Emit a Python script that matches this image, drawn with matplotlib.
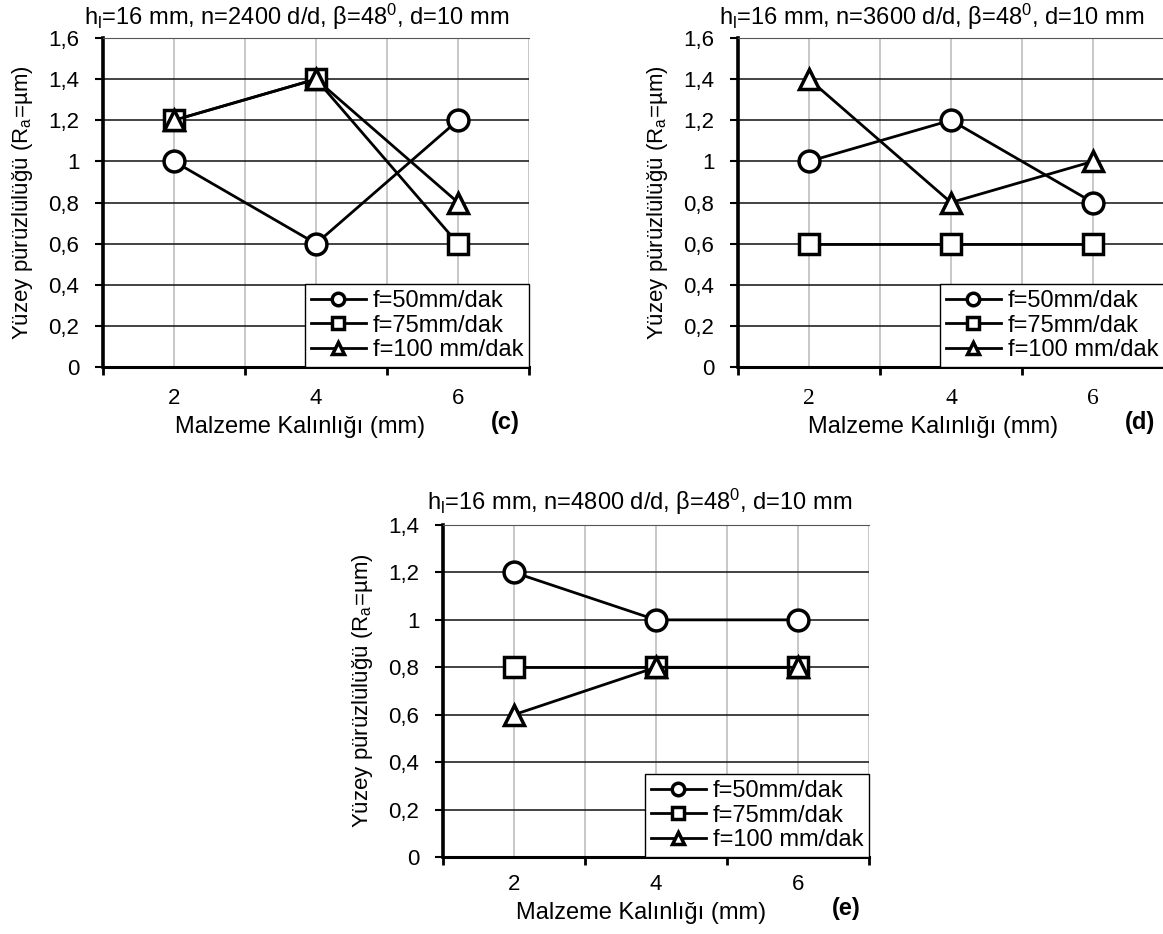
import numpy as np
import matplotlib
matplotlib.use('Agg')
import matplotlib.pyplot as plt
from matplotlib.ticker import FuncFormatter

plt.rcParams['font.family'] = ['Liberation Sans', 'DejaVu Sans']
plt.rcParams['mathtext.fontset'] = 'custom'
plt.rcParams['mathtext.rm'] = 'Liberation Sans'
plt.rcParams['mathtext.it'] = 'Liberation Sans:italic'

# data (Ra in micrometres)
thickness = ['2', '4', '6']
labels = ['f=50mm/dak', 'f=75mm/dak', 'f=100 mm/dak']

ra_2400_f50 = [1.0, 0.6, 1.2]
ra_2400_f75 = [1.2, 1.4, 0.6]
ra_2400_f100 = [1.2, 1.4, 0.8]

ra_3600_f50 = [1.0, 1.2, 0.8]
ra_3600_f75 = [0.6, 0.6, 0.6]
ra_3600_f100 = [1.4, 0.8, 1.0]

ra_4800_f50 = [1.2, 1.0, 1.0]
ra_4800_f75 = [0.8, 0.8, 0.8]
ra_4800_f100 = [0.6, 0.8, 0.8]

markers = ['o', 's', '^']
FS = 17       # titles, legend, axis labels
TFS = 16      # tick labels
W, H = 1163, 934

fig = plt.figure(figsize=(W / 100, H / 100), dpi=100)


def px_axes(l, t, r, b):
    return fig.add_axes([l / W, 1 - b / H, (r - l) / W, (b - t) / H])


def px_text(x, y, s, **kw):
    fig.text(x / W, 1 - y / H, s, ha='center', va='center', **kw)


def comma_fmt(v, pos):
    return ('%g' % round(v, 1)).replace('.', ',')


def draw(ax, series, ymax, xpad, serif_x=False):
    x = np.arange(len(thickness))
    for vals, m, lab in zip(series, markers, labels):
        ax.plot(x, vals, color='black', lw=2, marker=m, ms=15, mfc='white',
                mec='black', mew=2.5, label=lab, clip_on=False, zorder=3)
    ax.set_xlim(-0.5, 2.5)
    ax.set_ylim(0, ymax)
    ax.set_yticks(np.arange(0, ymax + 0.01, 0.2))
    ax.yaxis.set_major_formatter(FuncFormatter(comma_fmt))
    ax.set_xticks(x)
    ax.set_xticklabels(thickness)
    ax.set_xticks([-0.5, 0.5, 1.5, 2.5], minor=True)
    ax.tick_params(axis='x', which='major', length=0, pad=xpad, labelsize=TFS)
    ax.tick_params(axis='x', which='minor', length=6, width=2, direction='out')
    ax.tick_params(axis='y', length=6, width=1.5, direction='out', pad=11, labelsize=TFS)
    if serif_x:
        for t in ax.get_xticklabels():
            t.set_fontfamily('Liberation Serif')
            t.set_fontsize(TFS + 1)
    ax.set_axisbelow(True)
    ax.grid(axis='y', color='#222222', lw=1.2)
    ax.grid(axis='x', which='both', color='#c4c4c4', lw=1.3)
    ax.spines['left'].set_linewidth(2.6)
    ax.spines['bottom'].set_linewidth(2.2)
    ax.spines['top'].set_linewidth(0.8)
    ax.spines['top'].set_color('#555555')
    ax.spines['right'].set_visible(False)
    ax.set_ylabel('Yüzey pürüzlülüğü (R$_\\mathregular{a}$=µm)', fontsize=TFS, va='center')
    ax.yaxis.set_label_coords(-0.19, 0.5)
    leg = ax.legend(loc='lower right', borderaxespad=0, fancybox=False,
                    edgecolor='black', framealpha=1, fontsize=FS,
                    handlelength=2.3, handletextpad=0.3, labelspacing=0.1,
                    borderpad=0.25, markerscale=0.6)
    leg.get_frame().set_linewidth(1.0)


title_fmt = 'h$_\\mathregular{l}$=16 mm, n=%s d/d, β=48$^\\mathregular{0}$, d=10 mm'

ax_c = px_axes(103, 38, 529, 367)
draw(ax_c, [ra_2400_f50, ra_2400_f75, ra_2400_f100], 1.6, 15)
ax_d = px_axes(738, 38, 1164, 367)
draw(ax_d, [ra_3600_f50, ra_3600_f75, ra_3600_f100], 1.6, 15, serif_x=True)
ax_e = px_axes(443, 525, 869, 857)
draw(ax_e, [ra_4800_f50, ra_4800_f75, ra_4800_f100], 1.4, 12)

px_text(297, 17, title_fmt % '2400', fontsize=FS)
px_text(932, 17, title_fmt % '3600', fontsize=FS)
px_text(640, 502, title_fmt % '4800', fontsize=FS)

px_text(300, 427, 'Malzeme Kalınlığı (mm)', fontsize=FS)
px_text(933, 427, 'Malzeme Kalınlığı (mm)', fontsize=FS)
px_text(641, 913, 'Malzeme Kalınlığı (mm)', fontsize=FS)

px_text(505, 422, '(c)', fontsize=FS, fontweight='bold')
px_text(1140, 422, '(d)', fontsize=FS, fontweight='bold')
px_text(846, 908, '(e)', fontsize=FS, fontweight='bold')

fig.savefig('out.png', dpi=100)
